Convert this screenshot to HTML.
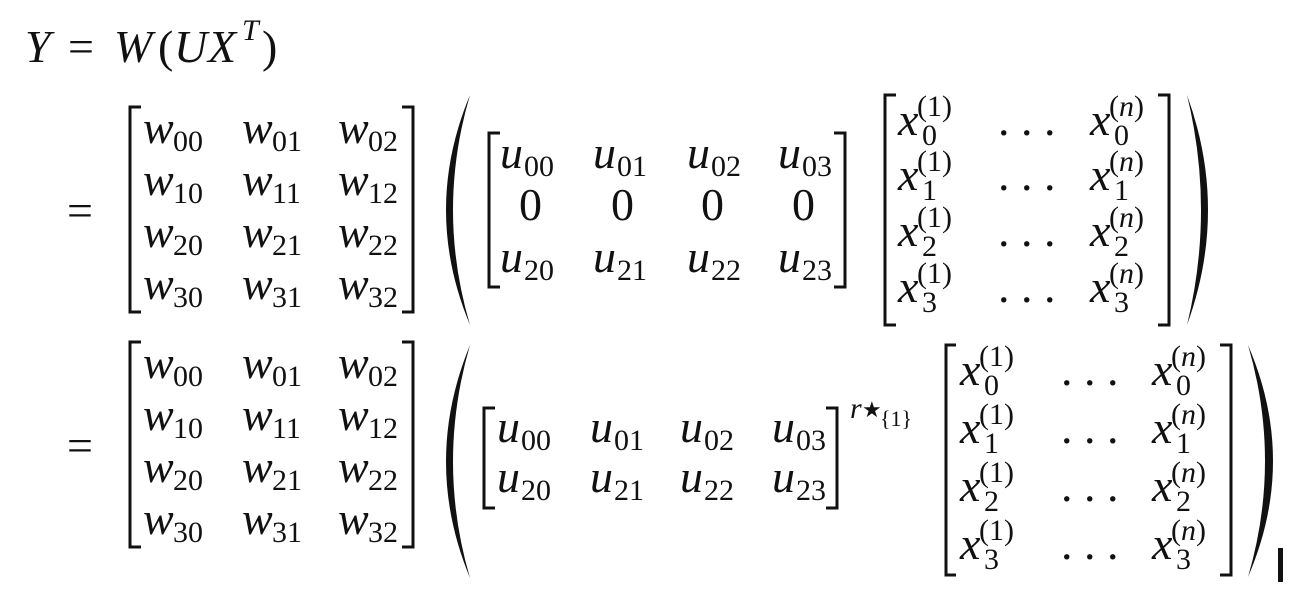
<!DOCTYPE html>
<html><head><meta charset="utf-8"><style>
html,body{margin:0;padding:0;background:#fff;}
svg{display:block;}
text{font-family:"Liberation Serif",serif;fill:#111;}
.i{font-style:italic;font-size:46px;}
.u{font-size:46px;}
.s{font-size:30px;}
.ss{font-size:22px;}
</style></head><body>
<svg width="1296" height="594" viewBox="0 0 1296 594" xmlns="http://www.w3.org/2000/svg">
<text x="25" y="62" class="i">Y</text>
<text x="68" y="62" class="u">=</text>
<text x="114" y="62" class="i">W</text>
<text x="158" y="62" class="u">(</text>
<text x="174" y="62" class="i">U</text>
<text x="208" y="62" class="i">X</text>
<text x="242" y="40" class="i" style="font-size:30px">T</text>
<text x="262" y="62" class="u">)</text>

<g id="blk1">
<text x="67" y="226" class="u">=</text>
<path d="M141,107 H130 V312 H141" fill="none" stroke="#111" stroke-width="3"/>
<path d="M402,107 H413 V312 H402" fill="none" stroke="#111" stroke-width="3"/>
<g>
<text x="143" y="143" class="i">w</text><text x="173" y="151" class="s">00</text>
<text x="242" y="143" class="i">w</text><text x="272" y="151" class="s">01</text>
<text x="338" y="143" class="i">w</text><text x="368" y="151" class="s">02</text>
<text x="143" y="195" class="i">w</text><text x="173" y="203" class="s">10</text>
<text x="242" y="195" class="i">w</text><text x="272" y="203" class="s">11</text>
<text x="338" y="195" class="i">w</text><text x="368" y="203" class="s">12</text>
<text x="143" y="247" class="i">w</text><text x="173" y="255" class="s">20</text>
<text x="242" y="247" class="i">w</text><text x="272" y="255" class="s">21</text>
<text x="338" y="247" class="i">w</text><text x="368" y="255" class="s">22</text>
<text x="143" y="299" class="i">w</text><text x="173" y="307" class="s">30</text>
<text x="242" y="299" class="i">w</text><text x="272" y="307" class="s">31</text>
<text x="338" y="299" class="i">w</text><text x="368" y="307" class="s">32</text>
</g>
</g>

<path d="M470,95 Q422,210 470,325 Q436,210 470,95 Z" fill="#111"/>
<path d="M1187,95 Q1229,210 1187,325 Q1215,210 1187,95 Z" fill="#111"/>

<path d="M500,133 H489 V287 H500" fill="none" stroke="#111" stroke-width="3"/>
<path d="M834,133 H845 V287 H834" fill="none" stroke="#111" stroke-width="3"/>
<text x="500" y="168" class="i">u</text><text x="524" y="176" class="s">00</text>
<text x="593" y="168" class="i">u</text><text x="617" y="176" class="s">01</text>
<text x="687" y="168" class="i">u</text><text x="711" y="176" class="s">02</text>
<text x="778" y="168" class="i">u</text><text x="802" y="176" class="s">03</text>
<text x="519" y="220" class="u">0</text>
<text x="611" y="220" class="u">0</text>
<text x="701" y="220" class="u">0</text>
<text x="792" y="220" class="u">0</text>
<text x="500" y="272" class="i">u</text><text x="524" y="280" class="s">20</text>
<text x="593" y="272" class="i">u</text><text x="617" y="280" class="s">21</text>
<text x="687" y="272" class="i">u</text><text x="711" y="280" class="s">22</text>
<text x="778" y="272" class="i">u</text><text x="802" y="280" class="s">23</text>

<path d="M896,95 H885 V325 H896" fill="none" stroke="#111" stroke-width="3"/>
<path d="M1158,95 H1169 V325 H1158" fill="none" stroke="#111" stroke-width="3"/>
<g>
<text x="898" y="135" class="i">x</text><text x="917" y="116" class="s">(1)</text><text x="922" y="145" class="s">0</text>
<text x="1090" y="135" class="i">x</text><text x="1109" y="116" class="s">(<tspan font-style="italic">n</tspan>)</text><text x="1114" y="145" class="s">0</text>
<text x="998" y="135" class="u">. . .</text>
<text x="898" y="190" class="i">x</text><text x="917" y="171" class="s">(1)</text><text x="922" y="200" class="s">1</text>
<text x="1090" y="190" class="i">x</text><text x="1109" y="171" class="s">(<tspan font-style="italic">n</tspan>)</text><text x="1114" y="200" class="s">1</text>
<text x="998" y="190" class="u">. . .</text>
<text x="898" y="246" class="i">x</text><text x="917" y="227" class="s">(1)</text><text x="922" y="256" class="s">2</text>
<text x="1090" y="246" class="i">x</text><text x="1109" y="227" class="s">(<tspan font-style="italic">n</tspan>)</text><text x="1114" y="256" class="s">2</text>
<text x="998" y="246" class="u">. . .</text>
<text x="898" y="302" class="i">x</text><text x="917" y="283" class="s">(1)</text><text x="922" y="312" class="s">3</text>
<text x="1090" y="302" class="i">x</text><text x="1109" y="283" class="s">(<tspan font-style="italic">n</tspan>)</text><text x="1114" y="312" class="s">3</text>
<text x="998" y="302" class="u">. . .</text>
</g>

<use href="#blk1" transform="translate(0,235)"/>
<path d="M470,345 Q422,462 470,578 Q436,462 470,345 Z" fill="#111"/>
<path d="M1248,345 Q1298,461 1248,577 Q1282,461 1248,345 Z" fill="#111"/>

<path d="M495,408 H484 V508 H495" fill="none" stroke="#111" stroke-width="3"/>
<path d="M826,408 H837 V508 H826" fill="none" stroke="#111" stroke-width="3"/>
<text x="497" y="442" class="i">u</text><text x="521" y="450" class="s">00</text>
<text x="590" y="442" class="i">u</text><text x="614" y="450" class="s">01</text>
<text x="680" y="442" class="i">u</text><text x="704" y="450" class="s">02</text>
<text x="772" y="442" class="i">u</text><text x="796" y="450" class="s">03</text>
<text x="497" y="492" class="i">u</text><text x="521" y="500" class="s">20</text>
<text x="590" y="492" class="i">u</text><text x="614" y="500" class="s">21</text>
<text x="680" y="492" class="i">u</text><text x="704" y="500" class="s">22</text>
<text x="772" y="492" class="i">u</text><text x="796" y="500" class="s">23</text>
<text x="850" y="418" class="i" style="font-size:30px">r</text>
<text x="862" y="417" class="ss">★</text>
<text x="880" y="426" class="ss">{1}</text>

<path d="M956,345 H946 V575 H956" fill="none" stroke="#111" stroke-width="3"/>
<path d="M1220,345 H1231 V575 H1220" fill="none" stroke="#111" stroke-width="3"/>
<g>
<text x="960" y="385" class="i">x</text><text x="979" y="366" class="s">(1)</text><text x="984" y="395" class="s">0</text>
<text x="1152" y="385" class="i">x</text><text x="1171" y="366" class="s">(<tspan font-style="italic">n</tspan>)</text><text x="1176" y="395" class="s">0</text>
<text x="1061" y="385" class="u">. . .</text>
<text x="960" y="443" class="i">x</text><text x="979" y="424" class="s">(1)</text><text x="984" y="453" class="s">1</text>
<text x="1152" y="443" class="i">x</text><text x="1171" y="424" class="s">(<tspan font-style="italic">n</tspan>)</text><text x="1176" y="453" class="s">1</text>
<text x="1061" y="443" class="u">. . .</text>
<text x="960" y="501" class="i">x</text><text x="979" y="482" class="s">(1)</text><text x="984" y="511" class="s">2</text>
<text x="1152" y="501" class="i">x</text><text x="1171" y="482" class="s">(<tspan font-style="italic">n</tspan>)</text><text x="1176" y="511" class="s">2</text>
<text x="1061" y="501" class="u">. . .</text>
<text x="960" y="559" class="i">x</text><text x="979" y="540" class="s">(1)</text><text x="984" y="569" class="s">3</text>
<text x="1152" y="559" class="i">x</text><text x="1171" y="540" class="s">(<tspan font-style="italic">n</tspan>)</text><text x="1176" y="569" class="s">3</text>
<text x="1061" y="559" class="u">. . .</text>
</g>
<rect x="1278" y="548" width="5" height="34" fill="#111"/>
</svg>
</body></html>
